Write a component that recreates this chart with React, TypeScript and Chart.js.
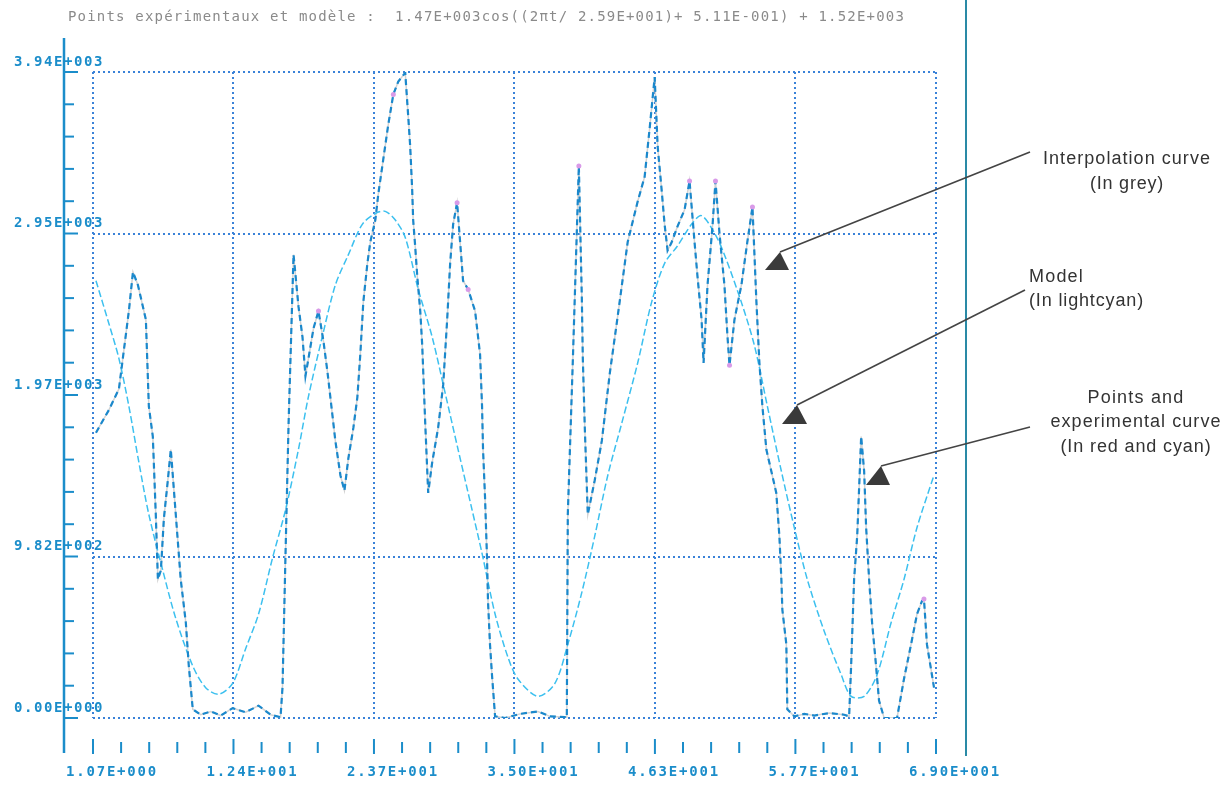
import { useEffect, useRef } from "react";
import { Chart, registerables } from "chart.js";

Chart.register(...registerables);

const TITLE =
  "Points expérimentaux et modèle :  1.47E+003cos((2πt/ 2.59E+001)+ 5.11E-001) + 1.52E+003";

const X_TICKS = [1.07, 12.39, 23.71, 35.03, 46.35, 57.67, 69.0];
const X_LABELS = ["1.07E+000", "1.24E+001", "2.37E+001", "3.50E+001", "4.63E+001", "5.77E+001", "6.90E+001"];
const Y_TICKS = [0, 985, 1970, 2955, 3940];
const Y_LABELS = ["0.00E+000", "9.82E+002", "1.97E+003", "2.95E+003", "3.94E+003"];
const Y_NO_GRID = [1970];

// Model (light cyan)
const MODEL_X = [
  1.31, 2.36, 3.16, 3.96, 4.77, 5.57, 6.7, 7.74, 9.11, 10.15, 11.2, 12.32, 13.37, 14.41, 15.54, 16.58,
  17.63, 18.43, 19.56, 20.6, 21.65, 22.77, 23.82, 24.62, 25.43, 26.23, 27.28, 28.4, 29.45, 30.49, 31.62,
  32.42, 33.47, 34.51, 35.31, 36.92, 38.29, 39.33, 40.46, 41.5, 42.55, 43.67, 44.96, 46.08, 47.13, 48.17,
  49.3, 50.1, 51.15, 51.95, 53.32, 54.37, 55.41, 56.54, 57.58, 58.63, 60.0, 61.36, 62.16, 63.21, 64.25,
  65.38, 66.42, 67.47, 68.83,
];
const MODEL_Y = [
  2667, 2403, 2192, 1902, 1558, 1241, 898, 607, 317, 185, 145, 211, 423, 634, 977, 1268, 1640, 1960, 2330,
  2641, 2826, 3011, 3077, 3090, 3037, 2931, 2614, 2324, 1981, 1637, 1268, 1004, 634, 370, 238, 132, 211,
  449, 766, 1109, 1479, 1796, 2165, 2535, 2773, 2879, 3011, 3064, 2958, 2826, 2535, 2271, 1902, 1505, 1162,
  845, 528, 264, 132, 132, 264, 581, 845, 1162, 1479,
];

// Experimental curve (cyan dashed) and interpolation (grey)
const EXP_X = [
  1.31, 2.36, 3.16, 3.96, 4.29, 4.69, 5.33, 5.57, 5.89, 6.13, 6.3, 6.54, 6.78, 7.1, 7.34, 7.74, 8.14, 8.55,
  8.79, 9.11, 9.75, 10.56, 11.36, 12.32, 13.37, 14.41, 15.38, 16.18, 16.34, 16.58, 16.83, 17.23, 17.63,
  17.95, 18.19, 18.43, 18.84, 19.24, 19.64, 19.96, 20.36, 20.6, 21.01, 21.33, 21.65, 22.05, 22.37, 22.61,
  22.85, 23.18, 23.42, 23.82, 24.06, 24.46, 24.86, 25.27, 25.67, 26.23, 26.47, 26.63, 26.79, 26.87, 27.03,
  27.2, 27.44, 27.6, 27.84, 28.08, 28.4, 28.88, 29.29, 29.61, 29.85, 30.09, 30.41, 30.65, 30.89, 31.3,
  31.86, 32.26, 32.42, 32.5, 32.66, 32.82, 32.9, 33.06, 33.22, 33.47, 34.27, 35.48, 36.92, 37.89, 39.09,
  39.25, 39.33, 39.74, 40.22, 40.46, 40.54, 40.7, 40.94, 41.5, 42.07, 42.71, 43.35, 44.16, 44.96, 45.52,
  45.93, 46.33, 46.57, 46.89, 47.13, 47.37, 47.69, 48.18, 48.74, 49.14, 49.54, 49.78, 50.11, 50.27, 50.59,
  50.99, 51.23, 51.55, 51.95, 52.2, 52.36, 52.76, 53.32, 53.8, 54.21, 54.37, 54.53, 54.77, 55.01, 55.33,
  55.73, 56.13, 56.38, 56.54, 56.62, 56.94, 57.02, 57.58, 58.39, 59.19, 60.39, 61.6, 62.0, 62.16, 62.4,
  62.65, 62.97, 63.21, 63.37, 63.61, 63.85, 64.17, 64.41, 64.82, 65.86, 66.42, 66.99, 67.47, 67.87, 68.03,
  68.27, 68.67, 68.84,
];
const EXP_Y = [
  1740, 1880, 2007, 2482, 2720, 2641, 2430, 1900, 1717, 1240, 845, 900, 1215, 1450, 1637, 1241, 845, 581,
  317, 53, 20, 40, 15, 60, 35, 75, 20, 5, 185, 990, 1796, 2826, 2509, 2324, 2086, 2192, 2377, 2482, 2298,
  2113, 1849, 1690, 1479, 1387, 1585, 1769, 1954, 2218, 2535, 2773, 2905, 3037, 3196, 3407, 3618, 3803,
  3882, 3935, 3671, 3486, 3222, 3037, 2879, 2694, 2482, 2271, 1800, 1373, 1558, 1769, 2033, 2430, 2773,
  3011, 3143, 2905, 2667, 2614, 2482, 2218, 1902, 1637, 1347, 977, 713, 449, 264, 10, 0, 25, 40, 10, 5, 0,
  1241, 2192, 3367, 2562, 2192, 1769, 1241, 1450, 1690, 2100, 2450, 2905, 3150, 3301, 3600, 3909, 3486,
  3222, 3011, 2852, 2900, 3000, 3100, 3275, 2905, 2694, 2430, 2165, 2641, 3000, 3275, 2958, 2641, 2324,
  2152, 2430, 2641, 2905, 3116, 2826, 2535, 2165, 1902, 1637, 1505, 1373, 1109, 845, 660, 449, 53, 10, 25,
  15, 30, 20, 10, 317, 845, 1109, 1717, 1505, 1162, 845, 581, 317, 106, 0, 0, 238, 449, 634, 713, 726, 449,
  264, 185,
];

// Experimental points (red/violet dots)
const POINT_X = [19.24, 25.27, 30.41, 31.3, 40.22, 49.14, 51.23, 52.36, 54.21, 68.03];
const POINT_Y = [2482, 3803, 3143, 2614, 3367, 3275, 3275, 2152, 3116, 726];

const AXIS_COLOR = "#1b8dca";
const GRID_COLOR = "#3a82d8";
const TEXT_MONO = "'DejaVu Sans Mono', monospace";

function spacedText(
  ctx: CanvasRenderingContext2D,
  text: string,
  x: number,
  y: number,
  width: number,
  align: "left" | "center"
) {
  (ctx as any).letterSpacing = "0px";
  const w = ctx.measureText(text).width;
  const sp = (width - w) / text.length;
  (ctx as any).letterSpacing = sp + "px";
  const realW = w + sp * text.length;
  const sx = align === "center" ? x - realW / 2 : x;
  ctx.textAlign = "left";
  ctx.fillText(text, sx, y);
  (ctx as any).letterSpacing = "0px";
}

const ANNOT = [
  { lines: [["Interpolation curve", 1127, 159, 168], ["(In grey)", 1127, 184, 74]], align: "center",
    from: [1030, 152], tip: [780, 252], base: [[765, 270], [789, 270]] },
  { lines: [["Model", 1029, 277, 55], ["(In lightcyan)", 1029, 301, 115]], align: "left",
    from: [1025, 290], tip: [797, 405], base: [[782, 424], [807, 424]] },
  { lines: [["Points and", 1136, 398, 97], ["experimental curve", 1136, 422, 171], ["(In red and cyan)", 1136, 447, 151]],
    align: "center", from: [1030, 427], tip: [881, 466], base: [[866, 485], [890, 485]] },
];

const decor = {
  id: "decor",
  afterDraw(chart: any) {
    const ctx: CanvasRenderingContext2D = chart.ctx;
    const xs = chart.scales.x;
    const ys = chart.scales.y;
    ctx.save();

    // title
    ctx.font = "14px " + TEXT_MONO;
    ctx.fillStyle = "#8a8a8a";
    ctx.textBaseline = "middle";
    spacedText(ctx, TITLE, 68, 17, 837, "left");

    // y axis
    const ax = 64;
    ctx.strokeStyle = AXIS_COLOR;
    ctx.lineWidth = 2.5;
    ctx.beginPath();
    ctx.moveTo(ax, 38);
    ctx.lineTo(ax, 753);
    ctx.stroke();
    ctx.lineWidth = 2;
    ctx.font = "bold 14px " + TEXT_MONO;
    ctx.fillStyle = AXIS_COLOR;
    for (let i = 0; i < Y_TICKS.length; i++) {
      const py = ys.getPixelForValue(Y_TICKS[i]);
      ctx.beginPath();
      ctx.moveTo(ax, py);
      ctx.lineTo(ax + 14, py);
      ctx.stroke();
      if (i < Y_TICKS.length - 1) {
        const step = (Y_TICKS[i + 1] - Y_TICKS[i]) / 5;
        for (let k = 1; k < 5; k++) {
          const pm = ys.getPixelForValue(Y_TICKS[i] + k * step);
          ctx.beginPath();
          ctx.moveTo(ax, pm);
          ctx.lineTo(ax + 10, pm);
          ctx.stroke();
        }
      }
      spacedText(ctx, Y_LABELS[i], 14, py - 10, 90, "left");
    }

    // x ticks
    for (let i = 0; i < X_TICKS.length; i++) {
      const px = xs.getPixelForValue(X_TICKS[i]);
      ctx.beginPath();
      ctx.moveTo(px, 739);
      ctx.lineTo(px, 754);
      ctx.stroke();
      if (i < X_TICKS.length - 1) {
        const step = (X_TICKS[i + 1] - X_TICKS[i]) / 5;
        for (let k = 1; k < 5; k++) {
          const pm = xs.getPixelForValue(X_TICKS[i] + k * step);
          ctx.beginPath();
          ctx.moveTo(pm, 742);
          ctx.lineTo(pm, 753);
          ctx.stroke();
        }
      }
      spacedText(ctx, X_LABELS[i], px - 27, 772, 92, "left");
    }

    // right frame line
    ctx.strokeStyle = "#2a8aa6";
    ctx.lineWidth = 2;
    ctx.beginPath();
    ctx.moveTo(966, 0);
    ctx.lineTo(966, 756);
    ctx.stroke();

    // annotations
    ctx.font = "18px 'Liberation Sans', Arial, sans-serif";
    ctx.fillStyle = "#333333";
    ctx.strokeStyle = "#444444";
    ctx.lineWidth = 1.6;
    for (const a of ANNOT) {
      for (const l of a.lines) {
        spacedText(ctx, l[0] as string, l[1] as number, l[2] as number, l[3] as number, a.align as any);
      }
      ctx.beginPath();
      ctx.moveTo(a.from[0], a.from[1]);
      ctx.lineTo(a.tip[0], a.tip[1]);
      ctx.stroke();
      ctx.fillStyle = "#3a3a3a";
      ctx.beginPath();
      ctx.moveTo(a.tip[0], a.tip[1]);
      ctx.lineTo(a.base[0][0], a.base[0][1]);
      ctx.lineTo(a.base[1][0], a.base[1][1]);
      ctx.closePath();
      ctx.fill();
      ctx.fillStyle = "#333333";
    }
    ctx.restore();
  },
};

export default function App() {
  const ref = useRef<HTMLCanvasElement | null>(null);
  useEffect(() => {
    if (!ref.current) return;
    const toXY = (xa: number[], ya: number[]) => xa.map((v, i) => ({ x: v, y: ya[i] }));
    const chart = new Chart(ref.current, {
      type: "line",
      data: {
        datasets: [
          {
            label: "Points",
            data: toXY(POINT_X, POINT_Y),
            showLine: false,
            pointRadius: 2.5,
            pointBackgroundColor: "#d99ae8",
            pointBorderWidth: 0,
            order: 0,
          },
          {
            label: "Experimental curve",
            data: toXY(EXP_X, EXP_Y),
            borderColor: "#1a88cc",
            borderWidth: 2.2,
            borderDash: [6, 4],
            pointRadius: 0,
            tension: 0,
            order: 1,
          },
          {
            label: "Model",
            data: toXY(MODEL_X, MODEL_Y),
            borderColor: "#3cc0ef",
            borderWidth: 1.5,
            borderDash: [7, 3],
            pointRadius: 0,
            tension: 0.3,
            order: 2,
          },
          {
            label: "Interpolation curve",
            data: toXY(EXP_X, EXP_Y),
            borderColor: "#d2d2d2",
            borderWidth: 1.5,
            pointRadius: 0,
            tension: 0,
            order: 3,
          },
        ],
      } as any,
      options: {
        animation: false,
        responsive: false,
        devicePixelRatio: 1,
        layout: { padding: { left: 93, right: 289, top: 72, bottom: 69 } },
        plugins: { legend: { display: false }, tooltip: { enabled: false }, title: { display: false } },
        scales: {
          x: {
            type: "linear",
            min: 1.07,
            max: 69.0,
            afterBuildTicks: (s: any) => {
              s.ticks = X_TICKS.map((v) => ({ value: v }));
            },
            ticks: { display: false },
            grid: { color: GRID_COLOR, lineWidth: 2, drawTicks: false },
            border: { display: false, dash: [2, 3] },
          },
          y: {
            type: "linear",
            min: 0,
            max: 3940,
            afterBuildTicks: (s: any) => {
              s.ticks = Y_TICKS.map((v) => ({ value: v }));
            },
            ticks: { display: false },
            grid: {
              color: (c: any) => (c.tick && Y_NO_GRID.includes(c.tick.value) ? "rgba(0,0,0,0)" : GRID_COLOR),
              lineWidth: 2,
              drawTicks: false,
            },
            border: { display: false, dash: [2, 3] },
          },
        },
      } as any,
      plugins: [decor],
    });
    return () => chart.destroy();
  }, []);
  return (
    <div style={{ position: "absolute", left: 0, top: 0, width: 1225, height: 787, background: "#fff" }}>
      <canvas ref={ref} width={1225} height={787} style={{ display: "block" }} />
    </div>
  );
}
